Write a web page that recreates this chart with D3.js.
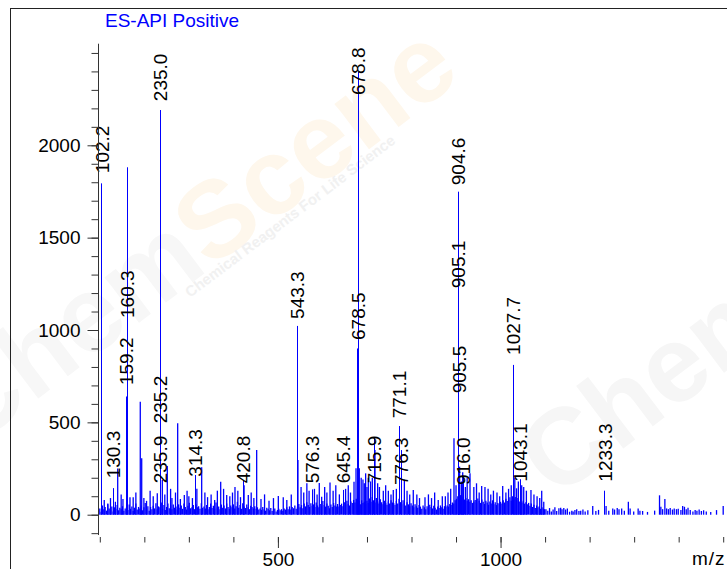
<!DOCTYPE html>
<html>
<head>
<meta charset="utf-8">
<script src="https://cdn.jsdelivr.net/npm/d3@7/dist/d3.min.js"></script>
<style>
  body { margin: 0; background: #fff; }
  svg { display: block; font-family: "Liberation Sans", Arial, sans-serif; }
</style>
</head>
<body>
<div id="chart"></div>
<script>
// labelled peaks: m/z, intensity, level where the label starts
const peakMz    = [102.2, 130.3, 159.2, 160.3, 235.0, 235.2, 235.9, 314.3, 420.8, 543.3, 576.3, 645.4,
                   678.5, 678.8, 715.9, 771.1, 776.3, 904.6, 905.1, 905.5, 916.0, 1027.7, 1043.1, 1233.3];
const peakInt   = [1794, 144, 640, 1881, 2191, 460, 130, 215, 184, 1022, 137, 134,
                   900, 2398, 419, 480, 350, 1749, 1180, 610, 206, 811, 192, 130];
const labelAt   = [1849, 197, 702, 1065, 2239, 495, 170, 206, 170, 1060, 170, 170,
                   946, 2272, 170, 522, 161, 1784, 1226, 657, 161, 865, 179, 179];

// other spikes [m/z, intensity]
const spikes = [[140.2,250],[167.8,94],[190.9,612],[194.1,305],[229.1,116],[240.4,188],[251.6,264],
  [274.9,495],[289.8,107],[328.8,257],[371.5,179],[385,106],[403.6,150],[433.5,106],[452.3,350],
  [500.9,101],[545,296],[592.9,172],[598.3,97],[617,174],[670.9,179],[675.4,251],[682.8,251],
  [691,190],[697,224],[703,200],[718,350],[736.7,129],[759.1,134],[804,134],[830.3,95],[869.2,100],
  [895.4,414],[912,180],[921,150],[931.4,224],[957.6,155],[965,150],[1004.8,155],[1036,143],
  [1047.5,160],[1068.3,134],[1092.4,130],
  [110,80],[118,60],[124,90],[135,70],[148,110],[152,85],[175,95],[181,120],[199,90],[205,75],
  [213,130],[220,100],[246,110],[259,140],[262,90],[270,120],[281,85],[296,130],[300,100],[308,90],
  [318,140],[336,120],[342,95],[350,110],[358,80],[364,130],[378,140],[392,100],[398,120],[410,130],
  [416,95],[424,160],[440,120],[446,90],[462,85],[470,110],[480,75],[490,90],[512,95],[520,80],
  [530,110],[552,150],[558,120],[565,170],[570,130],[582,140],[588,110],[605,150],[610,120],[624,130],
  [630,160],[638,110],[652,140],[658,160],[663,120],[687,200],[694,170],[700,150],[708,180],[712,200],
  [724,170],[728,150],[742,160],[748,130],[754,110],[766,140],[784,190],[790,130],[796,110],[812,110],
  [818,90],[838,110],[845,90],[852,120],[860,80],[876,100],[882,120],[888,140],[900,160],[908,260],
  [915,230],[925,200],[940,150],[946,170],[952,120],[972,140],[978,110],[984,130],[992,120],[998,100],
  [1012,120],[1018,140],[1024,160],[1032,200],[1040,180],[1052,150],[1058,130],[1075,110],[1082,100],
  [1088,90],[1097,70]];

// baseline noise, one value every 3 m/z starting at 100
const noiseStart = 100, noiseStep = 3;
const noise = [
  34,16,50,30,42,22,56,34,26,44,18,40,32,52,24,38,30,46,22,34,
  40,26,55,32,45,20,38,60,28,42,34,50,24,40,64,32,46,22,42,30,
  48,34,62,30,45,40,66,32,52,26,42,60,35,50,30,55,38,45,28,56,
  38,50,32,60,42,28,48,65,35,40,52,30,56,40,46,32,62,38,45,34,
  52,30,42,60,36,48,32,66,40,45,30,55,38,50,34,60,42,32,50,40,
  56,34,46,70,38,52,32,62,44,36,55,40,30,48,42,34,46,32,40,28,
  34,26,42,30,22,38,32,24,36,20,28,34,18,26,32,24,30,22,34,28,
  40,30,45,28,42,35,50,32,44,58,40,52,35,60,45,68,52,42,62,48,
  56,42,66,50,40,58,45,74,52,44,60,48,35,55,42,64,50,45,58,44,
  52,60,46,68,54,76,58,50,72,64,80,66,86,60,74,56,78,64,70,58,
  76,64,88,70,96,78,66,90,72,60,84,68,56,76,64,54,72,60,78,66,
  64,54,74,60,86,68,56,78,64,50,68,56,46,62,50,40,56,46,38,52,
  44,32,50,40,30,46,36,54,42,34,48,38,28,44,36,50,40,32,46,42,
  50,44,58,52,66,60,78,86,100,94,106,88,98,82,90,76,84,70,78,64,
  72,80,66,88,76,64,82,70,58,76,66,54,72,60,78,56,68,52,64,58,
  70,60,78,66,86,74,82,94,76,100,88,96,78,90,72,84,66,76,60,68,
  56,64,48,60,42,54,36,50,40,46,32,40,34,30];

// sparse tail [m/z, intensity]
const tail = [[1102,30],[1106,22],[1110,36],[1114,18],[1118,28],[1122,40],[1126,20],[1131,35],
  [1135,38],[1138,30],[1142,36],[1146,28],[1150,34],[1155,16],[1160,22],[1163,18],[1167,25],
  [1171,30],[1176,20],[1180,22],[1185,28],[1190,18],[1196,24],[1207,47],[1214,20],[1220,26],
  [1237,47],[1243,22],[1252,34],[1256,28],[1262,36],[1266,30],[1272,34],[1278,22],[1287,70],
  [1291,34],[1299,18],[1309,34],[1313,22],[1319,20],[1330,15],[1346,22],[1357,105],[1360,43],
  [1364,30],[1369,85],[1373,34],[1377,30],[1381,36],[1386,28],[1390,34],[1395,30],[1399,32],
  [1405,25],[1409,47],[1413,43],[1417,30],[1421,38],[1426,26],[1432,18],[1437,25],[1441,22],
  [1446,28],[1451,20],[1456,24],[1462,18],[1472,15],[1485,25],[1500,47]];

const yMajor = [0, 500, 1000, 1500, 2000];
const xMajor = [500, 1000];
const title = 'ES-API Positive';
const xTitle = 'm/z';

const width = 727, height = 569;
const svg = d3.select('#chart').append('svg')
    .attr('width', width)
    .attr('height', height);

const x = d3.scaleLinear().domain([100, 1500]).range([99.8, 723.2]);
const y = d3.scaleLinear().domain([0, 2000]).range([514.7, 145.3]);
// snap a mark to the pixel grid
const px = v => Math.round(v) + 0.5;

// faint watermark
const wm = svg.append('g');
const big = wm.append('text')
    .attr('transform', 'translate(-30,450) rotate(-37)')
    .attr('font-size', 108).attr('font-weight', 'bold');
big.append('tspan').attr('fill', '#f7f7f7').text('Chem');
big.append('tspan').attr('fill', '#fef7ec').text('Scene');
wm.append('text')
    .attr('transform', 'translate(190,298) rotate(-37)')
    .attr('font-size', 15).attr('font-weight', 'bold')
    .attr('fill', '#f1f1f1')
    .text('Chemical Reagents For Life Science');
wm.append('text')
    .attr('transform', 'translate(555,500) rotate(-37)')
    .attr('font-size', 108).attr('font-weight', 'bold')
    .attr('fill', '#f6f6f6')
    .text('Chem');

// frame
svg.append('rect')
    .attr('x', 10.5).attr('y', 8.5)
    .attr('width', 740).attr('height', 600)
    .attr('fill', 'none').attr('stroke', '#222');

svg.append('text')
    .attr('x', 105).attr('y', 27)
    .attr('font-size', 19)
    .attr('fill', '#0000ff')
    .text(title);

// noise bars
const noiseData = noise.map((v, i) => [noiseStart + i * noiseStep, v]);
const allBars = noiseData.concat(tail, spikes);

svg.append('g')
  .selectAll('line')
  .data(allBars)
  .enter()
  .append('line')
    .attr('x1', d => x(d[0])).attr('x2', d => x(d[0]))
    .attr('y1', y(0)).attr('y2', d => y(d[1]))
    .attr('stroke', '#0000ff')
    .attr('stroke-width', 1.3);

// labelled peaks
const peaks = peakMz.map((m, i) => ({mz: m, v: peakInt[i], at: labelAt[i]}));
svg.append('g')
  .selectAll('line')
  .data(peaks)
  .enter()
  .append('line')
    .attr('x1', d => px(x(d.mz))).attr('x2', d => px(x(d.mz)))
    .attr('y1', y(0)).attr('y2', d => y(d.v))
    .attr('stroke', '#0000ff')
    .attr('stroke-width', 1);

svg.append('g')
  .selectAll('text')
  .data(peaks)
  .enter()
  .append('text')
    .attr('transform', d => 'translate(' + (x(d.mz) + (d.mz < 110 ? 2 : 0.5)) + ',' + y(d.at) + ') rotate(-90)')
    .attr('dy', '0.35em')
    .attr('font-size', 19)
    .attr('fill', '#000')
    .text(d => d.mz.toFixed(1));

// y axis
const yAxisG = svg.append('g').attr('transform', 'translate(98.5,0)');
yAxisG.append('line')
    .attr('y1', y(-110)).attr('y2', y(2550))
    .attr('stroke', '#333');
yAxisG.call(d3.axisLeft(y).tickValues(d3.range(-100, 2501, 100)).tickSize(7).tickFormat(''))
    .call(g => g.select('.domain').remove());
const yMaj = svg.append('g').attr('transform', 'translate(98.5,0)')
    .call(d3.axisLeft(y).tickValues(yMajor).tickSize(11).tickPadding(7).tickFormat(d3.format('d')))
    .call(g => g.select('.domain').remove());
yMaj.selectAll('text').attr('font-size', 19).attr('fill', '#000').attr('font-family', null);

// x axis
const xAxisG = svg.append('g').attr('transform', 'translate(0,537)');
xAxisG.call(d3.axisBottom(x).tickValues(d3.range(100, 1501, 100)).tickSize(5.5).tickFormat(''))
    .call(g => g.select('.domain').remove());
const xMaj = svg.append('g').attr('transform', 'translate(0,537)')
    .call(d3.axisBottom(x).tickValues(xMajor).tickSize(11).tickPadding(5).tickFormat(d3.format('d')))
    .call(g => g.select('.domain').remove());
xMaj.selectAll('text').attr('font-size', 19).attr('fill', '#000').attr('font-family', null);
svg.selectAll('.tick line').attr('stroke', '#333');

svg.append('text')
    .attr('x', 692).attr('y', 565)
    .attr('font-size', 19)
    .attr('letter-spacing', 1)
    .text(xTitle);
</script>
</body>
</html>
